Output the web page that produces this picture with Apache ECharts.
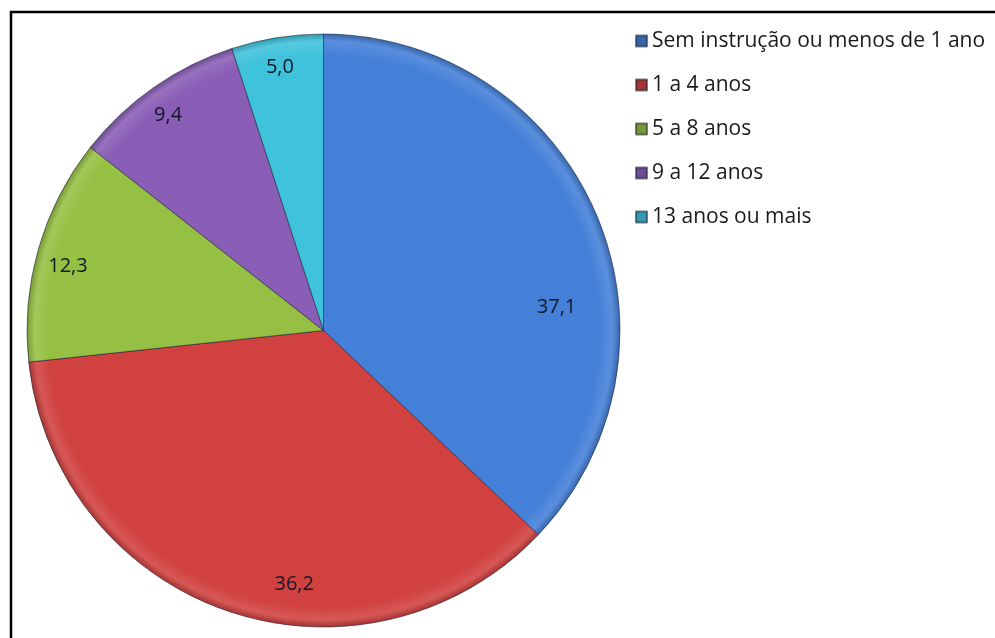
<!DOCTYPE html>
<html>
<head>
<meta charset="utf-8">
<script src="https://cdn.jsdelivr.net/npm/echarts@6/dist/echarts.min.js"></script>
<style>
html,body{margin:0;padding:0;background:#fff;}
#chart{width:995px;height:638px;}
</style>
</head>
<body>
<div id="chart"></div>
<script>
// ---- data ----
var categories = ['Sem instrução ou menos de 1 ano', '1 a 4 anos', '5 a 8 anos', '9 a 12 anos', '13 anos ou mais'];
var values = [37.1, 36.2, 12.3, 9.4, 5.0];
var valueLabels = ['37,1', '36,2', '12,3', '9,4', '5,0'];

// ---- styles ----
var colors = ['#4580d8', '#d0413f', '#96c043', '#8a5eb6', '#3fc2dc'];
var PIE_CX = 323.5, PIE_CY = 330.5, PIE_R = 296.5;
// label placement: [angle in degrees clockwise from top, fraction of radius]
var labelPlacement = [[84.2, 0.79], [186.6, 0.86], [284.2, 0.889], [324.2, 0.896], [350.6, 0.90]];

function shade(hex, f) {
  var n = parseInt(hex.slice(1), 16);
  var r = (n >> 16) & 255, g = (n >> 8) & 255, b = n & 255;
  function c(v) { v = f >= 0 ? v + (255 - v) * f : v * (1 + f); return Math.max(0, Math.min(255, Math.round(v))); }
  return 'rgb(' + c(r) + ',' + c(g) + ',' + c(b) + ')';
}

var chart = echarts.init(document.getElementById('chart'), null, {renderer: 'canvas'});

var seriesData = categories.map(function (name, i) {
  return {
    name: name,
    value: values[i],
    itemStyle: {
      color: {
        type: 'radial', x: PIE_CX, y: PIE_CY, r: PIE_R, global: true,
        colorStops: [
          {offset: 0, color: colors[i]},
          {offset: 0.93, color: colors[i]},
          {offset: 0.975, color: shade(colors[i], 0.12)},
          {offset: 1, color: shade(colors[i], -0.2)}
        ]
      }
    }
  };
});

chart.setOption({
  animation: false,
  backgroundColor: '#ffffff',
  color: colors,
  graphic: [{
    type: 'rect',
    shape: {x: 11, y: 12, width: 1100, height: 800},
    style: {fill: 'none', stroke: '#000', lineWidth: 2.5},
    silent: true,
    z: 100
  }],
  legend: {
    orient: 'vertical',
    left: 630,
    top: 24,
    itemWidth: 11,
    itemHeight: 11,
    itemGap: 20,
    icon: 'rect',
    data: categories,
    textStyle: {
      fontFamily: 'Open Sans',
      fontSize: 21,
      color: '#1a1a1a',
      lineHeight: 24,
      padding: [0, 0, 0, 0]
    }
  },
  series: [{
    type: 'pie',
    center: [PIE_CX, PIE_CY],
    radius: [0, PIE_R],
    startAngle: 90,
    clockwise: true,
    avoidLabelOverlap: false,
    data: seriesData,
    itemStyle: {borderColor: 'rgba(20,30,50,0.55)', borderWidth: 1},
    label: {
      show: true,
      position: 'inside',
      formatter: function (p) { return valueLabels[p.dataIndex]; },
      fontFamily: 'Open Sans',
      fontSize: 20,
      fontWeight: 500,
      color: '#111827',
      align: 'center',
      verticalAlign: 'middle'
    },
    labelLine: {show: false},
    emphasis: {disabled: true}
  }]
});

chart.setOption({
  series: [{
    labelLayout: function (params) {
      var pl = labelPlacement[params.dataIndex];
      var a = pl[0] * Math.PI / 180;
      return {
        x: PIE_CX + pl[1] * PIE_R * Math.sin(a),
        y: PIE_CY - pl[1] * PIE_R * Math.cos(a),
        align: 'center',
        verticalAlign: 'middle'
      };
    }
  }]
});
</script>
</body>
</html>
